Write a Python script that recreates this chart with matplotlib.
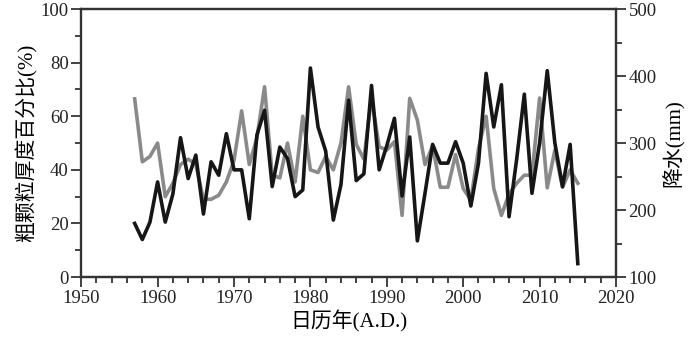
import matplotlib
matplotlib.use('Agg')
import matplotlib.pyplot as plt
from matplotlib.ticker import MultipleLocator

plt.rcParams['font.family'] = ['Liberation Serif', 'Noto Sans CJK SC', 'DejaVu Sans']

anos = list(range(1957, 2016))

# 粗颗粒厚度百分比 (%), eixo esquerdo
grosso = [66.5, 43, 45, 50, 30, 35, 42, 44, 42, 29,
          29, 30.5, 35.5, 43.5, 62, 42, 52, 71, 38, 37,
          50, 35.5, 60, 40, 39, 45, 40, 50, 71, 49.5,
          44, 67, 48.6, 47.4, 50.5, 23, 66.7, 58.6, 42, 49,
          33.5, 33.5, 45.7, 33, 28.7, 48, 60, 33, 23, 31,
          35, 38, 38, 66.8, 33.3, 47.4, 33.5, 40, 35]

# 降水 (mm), eixo direito
chuva = [180, 156, 182, 242, 182, 224, 308, 247, 282, 194,
         272, 252, 314, 260, 260, 187, 312, 349, 235, 294,
         277, 220, 230, 412, 324, 288, 185, 238, 364, 244,
         254, 386, 260, 296, 337, 221, 309, 154, 225, 298,
         270, 270, 302, 270, 206, 270, 404, 324, 387, 190,
         276, 373, 225, 300, 408, 300, 235, 298, 120]

fig = plt.figure(figsize=(7, 3.37), dpi=100)
ax = fig.add_axes([0.116, 0.178, 0.764, 0.795])
ax2 = ax.twinx()

ax.plot(anos, grosso, color='#8a8a8a', lw=2.6, zorder=2)
ax2.plot(anos, chuva, color='#161616', lw=2.6, zorder=3)

ax.set_xlim(1950, 2020)
ax.set_ylim(0, 100)
ax2.set_ylim(100, 500)

ax.xaxis.set_major_locator(MultipleLocator(10))
ax.xaxis.set_minor_locator(MultipleLocator(2))
ax.yaxis.set_major_locator(MultipleLocator(20))
ax.yaxis.set_minor_locator(MultipleLocator(10))
ax2.yaxis.set_major_locator(MultipleLocator(100))
ax2.yaxis.set_minor_locator(MultipleLocator(50))

for a in (ax, ax2):
    a.tick_params(which='major', direction='out', length=7, width=1.2, labelsize=13.5,
                  colors='#222222', pad=2)
    a.tick_params(which='minor', direction='out', length=4, width=1.2, colors='#222222')
    for s in a.spines.values():
        s.set_linewidth(1.6)
        s.set_color('#333333')
ax.spines['left'].set_color('#777777')

ax.set_xlabel('日历年(A.D.)', fontsize=15, labelpad=3)
ax.set_ylabel('粗颗粒厚度百分比(%)', fontsize=15, labelpad=2)
ax2.set_ylabel('降水(mm)', fontsize=15, labelpad=4)

fig.savefig('out.png', dpi=100)
